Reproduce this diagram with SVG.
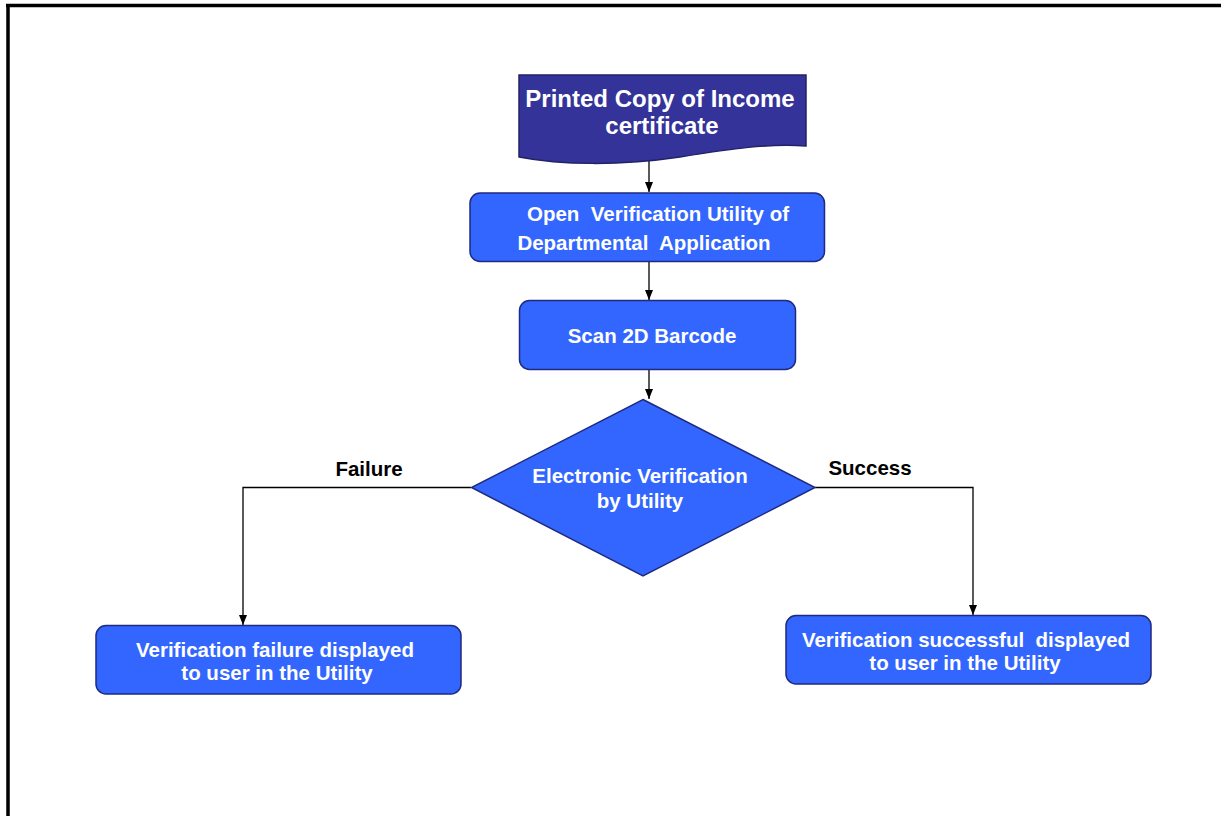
<svg xmlns="http://www.w3.org/2000/svg" width="1221" height="816" viewBox="0 0 1221 816">
<defs>
<marker id="ah" markerWidth="11" markerHeight="11" refX="10" refY="5.5" orient="auto" markerUnits="userSpaceOnUse">
<path d="M0,1.5 L10,5.5 L0,9.5 Z" fill="#000"/>
</marker>
<style>
.box{fill:#3366FF;stroke:#1F2A80;stroke-width:1.5}
.doc{fill:#333399;stroke:#222266;stroke-width:1.5}
.t{font-family:"Liberation Sans",Arial,sans-serif;font-weight:bold;fill:#fff;text-anchor:middle;font-size:20.5px}
.lbl{font-family:"Liberation Sans",Arial,sans-serif;font-weight:bold;fill:#000;text-anchor:middle;font-size:20.5px}
.c{fill:none;stroke:#000;stroke-width:1.3}
</style>
</defs>
<rect width="1221" height="816" fill="#fff"/>
<g id="frame">
<line x1="6" y1="5.5" x2="1221" y2="5.5" stroke="#000" stroke-width="3.5"/>
<line x1="8" y1="4" x2="8" y2="816" stroke="#000" stroke-width="3.5"/>
</g>
<g id="connectors">
<line class="c" x1="649" y1="159" x2="649" y2="192" marker-end="url(#ah)"/>
<line class="c" x1="649" y1="262" x2="649" y2="300" marker-end="url(#ah)"/>
<line class="c" x1="649" y1="370" x2="649" y2="399" marker-end="url(#ah)"/>
<polyline class="c" points="471,487.5 243,487.5 243,625" marker-end="url(#ah)"/>
<polyline class="c" points="815,487.5 973,487.5 973,615" marker-end="url(#ah)"/>
<text class="lbl" x="369" y="476">Failure</text>
<text class="lbl" x="870" y="475">Success</text>
</g>
<g id="n1">
<path class="doc" d="M519,75 H806 V146 C 770,143 730,149 680,157 C 620,166 560,165 519,157 Z"/>
<text class="t" x="660" y="107" style="font-size:24px">Printed Copy of Income</text>
<text class="t" x="662" y="134" style="font-size:24px">certificate</text>
</g>
<g id="n2">
<rect class="box" x="470" y="193" width="354.5" height="68.5" rx="10"/>
<text class="t" x="658" y="221" xml:space="preserve">Open  Verification Utility of</text>
<text class="t" x="644" y="250" xml:space="preserve">Departmental  Application</text>
</g>
<g id="n3">
<rect class="box" x="519.5" y="300.5" width="276" height="69" rx="10"/>
<text class="t" x="652" y="343">Scan 2D Barcode</text>
</g>
<g id="n4">
<polygon class="box" points="643,399.5 815,487.5 643,576 471.5,487.5"/>
<text class="t" x="640" y="483">Electronic Verification</text>
<text class="t" x="640" y="508">by Utility</text>
</g>
<g id="n5">
<rect class="box" x="96" y="625.5" width="365" height="68.5" rx="10"/>
<text class="t" x="275" y="657">Verification failure displayed</text>
<text class="t" x="277" y="680">to user in the Utility</text>
</g>
<g id="n6">
<rect class="box" x="786" y="615.5" width="365" height="68.5" rx="10"/>
<text class="t" x="966" y="647" xml:space="preserve">Verification successful  displayed</text>
<text class="t" x="965" y="670">to user in the Utility</text>
</g>
</svg>
